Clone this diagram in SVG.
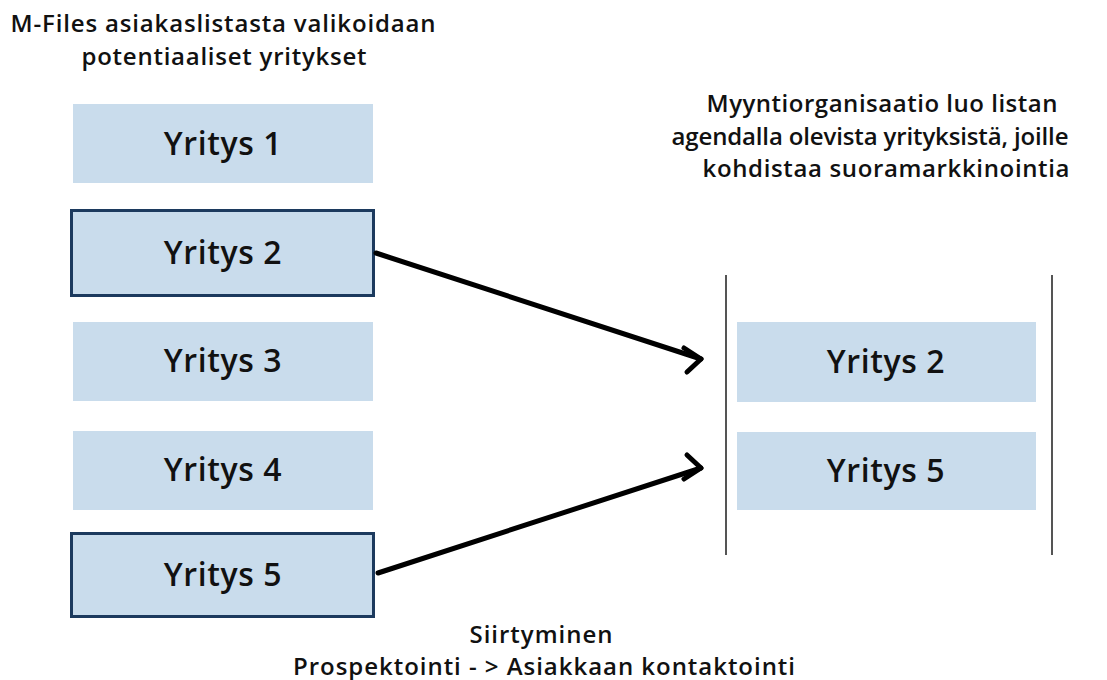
<svg xmlns="http://www.w3.org/2000/svg" width="1107" height="680" viewBox="0 0 1107 680">
<style>
.t{font-family:"Open Sans","Liberation Sans",sans-serif;font-weight:600;fill:#111;text-anchor:middle}
.lbl{font-size:32px;letter-spacing:0.6px}
.hd{font-size:24px}
.box{fill:#c9dcec}
.sel{fill:#c9dcec;stroke:#1c3a5e;stroke-width:3}
.ar{fill:none;stroke:#000;stroke-width:5;stroke-linecap:round;stroke-linejoin:round}
.vl{stroke:#555;stroke-width:2}
</style>
<rect width="1107" height="680" fill="#fff"/>
<g id="title-left">
<text class="t hd" x="223" y="32" textLength="425" lengthAdjust="spacing">M-Files asiakaslistasta valikoidaan</text>
<text class="t hd" x="224" y="65" textLength="285" lengthAdjust="spacing">potentiaaliset yritykset</text>
</g>
<g id="title-right">
<text class="t hd" x="882" y="112" textLength="351" lengthAdjust="spacing">Myyntiorganisaatio luo listan</text>
<text class="t hd" x="870" y="145" textLength="397" lengthAdjust="spacing">agendalla olevista yrityksistä, joille</text>
<text class="t hd" x="886" y="177" textLength="367" lengthAdjust="spacing">kohdistaa suoramarkkinointia</text>
</g>
<g id="caption">
<text class="t hd" x="541" y="643" textLength="143" lengthAdjust="spacing">Siirtyminen</text>
<text class="t hd" x="544" y="675" textLength="502" lengthAdjust="spacing">Prospektointi - &gt; Asiakkaan kontaktointi</text>
</g>
<g id="n1"><rect class="box" x="73" y="104" width="300" height="79"/><text class="t lbl" x="223" y="155">Yritys 1</text></g>
<g id="n2"><rect class="sel" x="71.5" y="210.5" width="302" height="85"/><text class="t lbl" x="223" y="264">Yritys 2</text></g>
<g id="n3"><rect class="box" x="73" y="322" width="300" height="79"/><text class="t lbl" x="223" y="372">Yritys 3</text></g>
<g id="n4"><rect class="box" x="73" y="431" width="300" height="79"/><text class="t lbl" x="223" y="481">Yritys 4</text></g>
<g id="n5"><rect class="sel" x="71.5" y="533.5" width="302" height="83"/><text class="t lbl" x="223" y="586">Yritys 5</text></g>
<g id="list">
<line class="vl" x1="726" y1="275" x2="726" y2="555"/>
<line class="vl" x1="1052" y1="275" x2="1052" y2="555"/>
</g>
<g id="r2"><rect class="box" x="737" y="322" width="299" height="80"/><text class="t lbl" x="886" y="373">Yritys 2</text></g>
<g id="r5"><rect class="box" x="737" y="432" width="299" height="78"/><text class="t lbl" x="886" y="482">Yritys 5</text></g>
<g id="connectors">
<path class="ar" d="M376 253 L701 359"/>
<path class="ar" d="M684 348 L701 359 L687 372"/>
<path class="ar" d="M378 573 L701 468"/>
<path class="ar" d="M687 455 L701 468 L684 479"/>
</g>
</svg>
